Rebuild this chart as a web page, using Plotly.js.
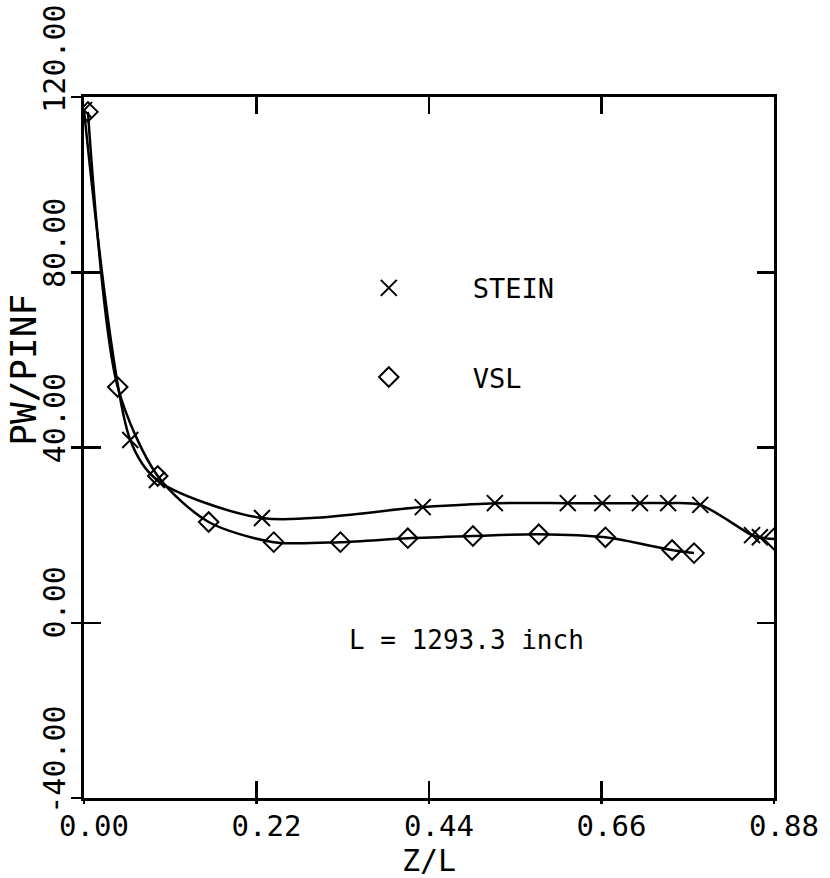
<!DOCTYPE html>
<html>
<head>
<meta charset="utf-8">
<script src="https://cdn.plot.ly/plotly-3.0.1.min.js"></script>
<style>html,body{margin:0;padding:0;background:#fff;}#chart{width:830px;height:878px;}</style>
</head>
<body>
<div id="chart"></div>
<script>
// STEIN results (Z/L, PW/PINF)
const steinZ = [0.000, 0.059, 0.093, 0.227, 0.432, 0.524, 0.617, 0.661, 0.709, 0.745, 0.786, 0.852, 0.862, 0.880];
const steinP = [117.0, 41.7, 32.6, 23.9, 26.4, 27.3, 27.3, 27.3, 27.3, 27.3, 26.9, 20.0, 19.5, 19.1];
// VSL results (Z/L, PW/PINF)
const vslZ = [0.005, 0.043, 0.094, 0.159, 0.242, 0.327, 0.413, 0.496, 0.580, 0.665, 0.750, 0.778];
const vslP = [116.6, 53.8, 33.5, 23.0, 18.4, 18.4, 19.3, 19.8, 20.2, 19.5, 16.6, 15.9];
// Axis ticks
const xTicks = [0.00, 0.22, 0.44, 0.66, 0.88];
const yTicks = [-40, 0, 40, 80, 120];
const seriesNames = ['STEIN', 'VSL'];
const xTitle = 'Z/L';
const yTitle = 'PW/PINF';
const noteText = 'L = 1293.3 inch';

const FONT = 'DejaVu Sans Mono, monospace';
const steinSymbols = steinZ.map((z, i) => i === steinZ.length - 1 ? 'diamond-open' : 'x-thin-open');
// y labels start at the tick and run upward: pad to equal length
const yTickText = yTicks.map(v => v.toFixed(2).padEnd(6, '\u00a0'));

const traces = [
  {x: steinZ, y: steinP, mode: 'lines', line: {color: '#000', width: 2.5, shape: 'spline', smoothing: 0.8}, showlegend: false, hoverinfo: 'skip'},
  {x: vslZ, y: vslP, mode: 'lines', line: {color: '#000', width: 2.5, shape: 'spline', smoothing: 0.8}, showlegend: false, hoverinfo: 'skip'},
  {x: steinZ, y: steinP, mode: 'markers', name: seriesNames[0], legendgroup: 'a',
   marker: {symbol: steinSymbols, size: 16, color: '#000', line: {color: '#000', width: 2}}},
  {x: vslZ, y: vslP, mode: 'markers', name: seriesNames[1], legendgroup: 'b',
   marker: {symbol: 'diamond-open', size: 15, color: '#000', line: {color: '#000', width: 2}}},
  // overlay axes only for outside tick marks
  {x: [], y: [], xaxis: 'x2', yaxis: 'y2', showlegend: false, hoverinfo: 'skip'}
];

const layout = {
  width: 830, height: 878,
  margin: {l: 84, r: 56, t: 97, b: 80},
  paper_bgcolor: '#fff', plot_bgcolor: '#fff',
  font: {family: FONT, color: '#000', size: 28},
  showlegend: true,
  legend: {x: 0.32, y: 0.762, xanchor: 'left', yanchor: 'top', bgcolor: 'rgba(0,0,0,0)',
           font: {family: FONT, size: 27, color: '#000'}, itemwidth: 158, tracegroupgap: 51},
  xaxis: {
    range: [0, 0.88], tickvals: xTicks, tickformat: '.2f',
    ticks: 'inside', ticklen: 17, tickwidth: 2.5, tickcolor: '#000',
    showline: true, linewidth: 3, linecolor: '#000', mirror: 'ticks',
    showgrid: false, zeroline: false,
    tickfont: {family: FONT, size: 29, color: '#000'},
    ticklabelshift: 10, ticklabelstandoff: 0,
    title: {text: xTitle, font: {family: FONT, size: 30, color: '#000'}, standoff: 6}
  },
  yaxis: {
    range: [-40, 120], tickvals: yTicks, ticktext: yTickText, tickangle: -90,
    ticks: 'inside', ticklen: 17, tickwidth: 2.5, tickcolor: '#000',
    showline: true, linewidth: 3, linecolor: '#000', mirror: 'ticks',
    showgrid: false, zeroline: false,
    tickfont: {family: FONT, size: 30, color: '#000'},
    ticklabelshift: -34, ticklabelstandoff: 4
  },
  xaxis2: {overlaying: 'x', range: [0, 0.88], tickvals: xTicks, showticklabels: false,
           ticks: 'outside', ticklen: 5, tickwidth: 2.5, tickcolor: '#000',
           showline: false, showgrid: false, zeroline: false},
  yaxis2: {overlaying: 'y', range: [-40, 120], tickvals: yTicks, showticklabels: false,
           ticks: 'outside', ticklen: 12, tickwidth: 2.5, tickcolor: '#000',
           showline: false, showgrid: false, zeroline: false},
  annotations: [
    {x: 0.488, y: -4, xref: 'x', yref: 'y', text: noteText, showarrow: false,
     font: {family: FONT, size: 26, color: '#000'}},
    {x: -0.087, y: 0.611, xref: 'paper', yref: 'paper', text: yTitle, textangle: -90, showarrow: false,
     xanchor: 'center', yanchor: 'middle', font: {family: FONT, size: 36, color: '#000'}}
  ]
};

Plotly.newPlot('chart', traces, layout, {displayModeBar: false, staticPlot: true});
</script>
</body>
</html>
